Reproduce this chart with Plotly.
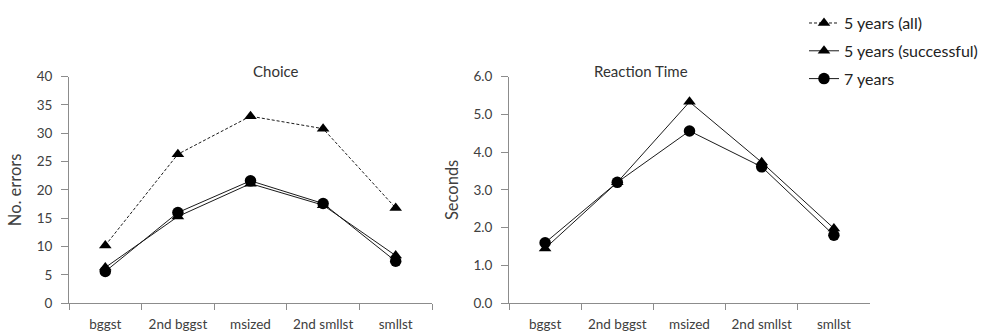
import plotly.graph_objects as go
from plotly.subplots import make_subplots

categories = ["bggst", "2nd bggst", "msized", "2nd smllst", "smllst"]
choice_5_all = [10.2, 26.3, 33.0, 30.8, 16.8]
choice_5_succ = [6.3, 15.3, 21.1, 17.3, 8.4]
choice_7 = [5.6, 16.0, 21.6, 17.6, 7.4]
rt_5_succ = [1.45, 3.2, 5.33, 3.73, 1.98]
rt_7 = [1.6, 3.2, 4.56, 3.61, 1.8]

FONT = "Lato"
TXT = "#404040"

fig = make_subplots(rows=1, cols=2)

line_c = "#1a1a1a"
fig.add_trace(go.Scatter(x=categories, y=choice_5_all, name="5 years (all)", legendgroup="a",
                         mode="lines+markers", line=dict(color=line_c, width=1, dash="3px,2px"),
                         marker=dict(symbol="triangle-up", size=11, color="black")), 1, 1)
fig.add_trace(go.Scatter(x=categories, y=choice_5_succ, name="5 years (successful)", legendgroup="b",
                         mode="lines+markers", line=dict(color=line_c, width=1),
                         marker=dict(symbol="triangle-up", size=11, color="black")), 1, 1)
fig.add_trace(go.Scatter(x=categories, y=choice_7, name="7 years", legendgroup="c",
                         mode="lines+markers", line=dict(color=line_c, width=1),
                         marker=dict(symbol="circle", size=11.5, color="black")), 1, 1)
fig.add_trace(go.Scatter(x=categories, y=rt_5_succ, name="5 years (successful)", legendgroup="b",
                         showlegend=False, mode="lines+markers", line=dict(color=line_c, width=1),
                         marker=dict(symbol="triangle-up", size=11, color="black")), 1, 2)
fig.add_trace(go.Scatter(x=categories, y=rt_7, name="7 years", legendgroup="c", showlegend=False,
                         mode="lines+markers", line=dict(color=line_c, width=1),
                         marker=dict(symbol="circle", size=11.5, color="black")), 1, 2)

W, H = 984, 335
ydom = [(H - 310) / H, (H - 72) / H]
axis_line = "#8c8c8c"

xcommon = dict(type="category", range=[-0.5, 4.5], tickson="boundaries", ticks="outside",
               ticklen=6, tickcolor=axis_line, showline=True, linecolor=axis_line, linewidth=1,
               showgrid=False, zeroline=False, tickfont=dict(family=FONT, size=13.5, color=TXT),
               ticklabelstandoff=9, fixedrange=True)
fig.update_xaxes(**xcommon)
fig.update_xaxes(domain=[69 / W, 432 / W], row=1, col=1)
fig.update_xaxes(domain=[509 / W, 870 / W], row=1, col=2)

ycommon = dict(ticks="outside", ticklen=7, tickcolor=axis_line, showline=True, linecolor=axis_line,
               linewidth=1, showgrid=False, zeroline=False, domain=ydom,
               tickfont=dict(family=FONT, size=13.5, color=TXT), ticklabelstandoff=6,
               fixedrange=True)
fig.update_yaxes(**ycommon)
fig.update_yaxes(range=[0, 40], dtick=5, row=1, col=1,
                 title=dict(text="No. errors", font=dict(family=FONT, size=16.5, color=TXT), standoff=10))
fig.update_yaxes(range=[0, 6], dtick=1, tickformat=".1f", row=1, col=2,
                 title=dict(text="Seconds", font=dict(family=FONT, size=16.5, color=TXT), standoff=10))

fig.add_annotation(text="Choice", x=(69 + 432) / 2 / W, y=(H - 55) / H, xref="paper", yref="paper",
                   showarrow=False, font=dict(family=FONT, size=15, color="#333"))
fig.add_annotation(text="Reaction Time", x=(509 + 870) / 2 / W, y=(H - 55) / H, xref="paper", yref="paper",
                   showarrow=False, font=dict(family=FONT, size=15, color="#333"))

fig.update_layout(
    width=W, height=H, margin=dict(l=0, r=0, t=0, b=0),
    paper_bgcolor="white", plot_bgcolor="white",
    showlegend=True,
    legend=dict(x=804 / W, y=1.0 + 2 / H, xanchor="left", yanchor="top", tracegroupgap=4,
                font=dict(family=FONT, size=16, color="#222"), bgcolor="rgba(0,0,0,0)"),
)

fig.write_html("out.html")
